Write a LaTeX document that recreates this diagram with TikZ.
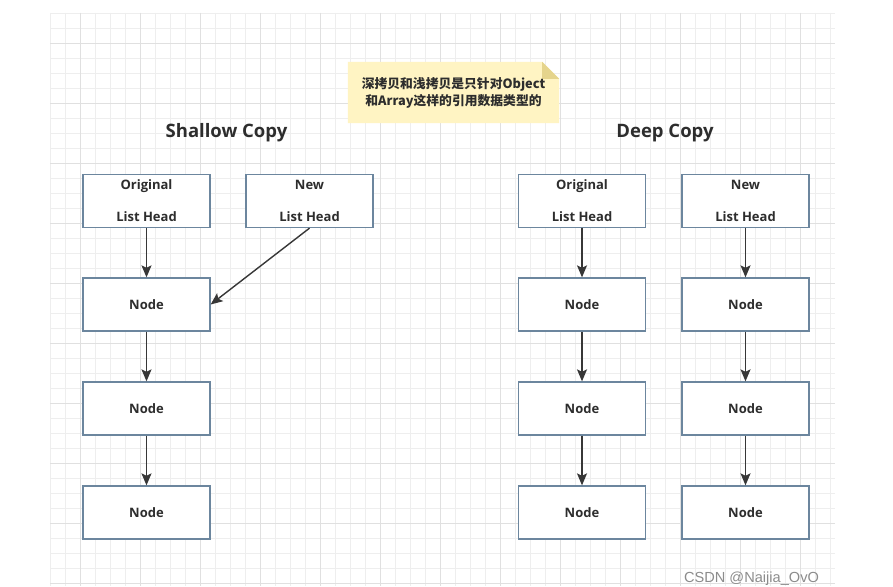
\documentclass[tikz,border=0pt]{standalone}
\usepackage{fontspec}
\setmainfont{Open Sans}
\newfontfamily\cjk{Noto Sans CJK SC}
\newfontfamily\wmfont{Liberation Sans}
\usetikzlibrary{arrows.meta,calc}
\definecolor{boxline}{RGB}{108,134,158}
\definecolor{textdark}{RGB}{45,45,45}
\definecolor{arrowc}{RGB}{55,55,55}
\definecolor{minorg}{RGB}{238,238,238}
\definecolor{majorg}{RGB}{224,224,224}
\definecolor{notefill}{RGB}{255,244,195}
\definecolor{notefold}{RGB}{229,212,140}
\definecolor{wmgray}{RGB}{140,140,140}
\begin{document}
\begin{tikzpicture}[x=1pt,y=-1pt,
  box/.style={draw=boxline,line width=1.3pt,fill=white,minimum width=127pt,minimum height=53pt,inner sep=0pt,align=center,text=textdark,font=\fontsize{13}{16}\selectfont\bfseries},
  link/.style={draw=arrowc,line width=1.4pt,-{Stealth[length=12pt,width=10pt,inset=2.5pt]}},
  minorline/.style={draw=minorg,line width=0.8pt},
  majorline/.style={draw=majorg,line width=0.9pt},
  title/.style={text=textdark,font=\fontsize{18.5}{22}\selectfont\bfseries,inner sep=0pt,anchor=base},
  notetext/.style={text=textdark,font=\cjk\fontsize{12.8}{17}\selectfont\bfseries,align=center,inner sep=0pt,minimum width=211pt,minimum height=61pt}]
\useasboundingbox (0,0) rectangle (893,586);
\fill[white] (0,0) rectangle (893,586);
% grid
\foreach \x in {50,65,...,830} \draw[minorline] (\x,13) -- (\x,586);
\foreach \y in {13,28,...,586} \draw[minorline] (50,\y) -- (835,\y);
\foreach \x in {80,140,...,830} \draw[majorline] (\x,13) -- (\x,586);
\foreach \y in {43,103,...,586} \draw[majorline] (50,\y) -- (835,\y);
% note
\node[notetext] (note) at (453.5,92.5) {};
\fill[notefill] (note.north west) -- ($(note.north east)+(-17,0)$) -- ($(note.north east)+(0,17)$) -- (note.south east) -- (note.south west) -- cycle;
\fill[notefold] ($(note.north east)+(-17,0)$) -- ($(note.north east)+(-17,17)$) -- ($(note.north east)+(0,17)$) -- cycle;
\node[notetext] at (note.center) {深拷贝和浅拷贝是只针对Object\\和Array这样的引用数据类型的};
% titles
\node[title] (t1) at (226.5,137) {Shallow Copy};
\node[title] (t2) at (665,137) {Deep Copy};
% shallow
\node[box] (so) at (146.5,201) {Original\\[16pt]List Head};
\node[box] (sn) at (309.5,201) {New\\[16pt]List Head};
\node[box] (s1) at (146.5,304.5) {Node};
\node[box] (s2) at (146.5,408.5) {Node};
\node[box] (s3) at (146.5,512.5) {Node};
\draw[link] (so) -- (s1);
\draw[link] (sn.south) -- (s1.east);
\draw[link] (s1) -- (s2);
\draw[link] (s2) -- (s3);
% deep
\node[box] (do) at (582,201) {Original\\[16pt]List Head};
\node[box] (dn) at (745.5,201) {New\\[16pt]List Head};
\node[box] (a1) at (582,304.5) {Node};
\node[box] (a2) at (582,408.5) {Node};
\node[box] (a3) at (582,512.5) {Node};
\node[box] (b1) at (745.5,304.5) {Node};
\node[box] (b2) at (745.5,408.5) {Node};
\node[box] (b3) at (745.5,512.5) {Node};
\draw[link] (do) -- (a1);
\draw[link] (a1) -- (a2);
\draw[link] (a2) -- (a3);
\draw[link] (dn) -- (b1);
\draw[link] (b1) -- (b2);
\draw[link] (b2) -- (b3);
% watermark
\node[text=wmgray,font=\wmfont\fontsize{14.6}{16}\selectfont,inner sep=0pt,anchor=base] (wm) at (751.5,582) {CSDN @Naijia\_OvO};
\end{tikzpicture}
\end{document}
